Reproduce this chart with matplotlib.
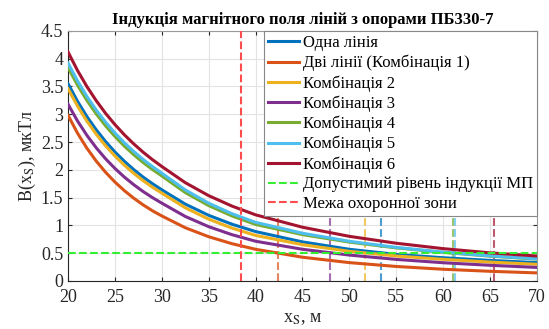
import numpy as np
import matplotlib
matplotlib.use('Agg')
import matplotlib.pyplot as plt

plt.rcParams['font.family'] = ['Liberation Serif', 'DejaVu Serif']
plt.rcParams['mathtext.fontset'] = 'stix'

# distance from the line axis, m
x_s = [20, 21, 22, 23, 24, 25, 26, 27, 28, 29, 30, 32.5, 35, 37.5, 40, 45, 50, 55, 60, 65, 70]

# induction values, uT
b_one = [3.55, 3.235, 2.961, 2.721, 2.509, 2.321, 2.154, 2.005, 1.870, 1.750, 1.64,
         1.383, 1.181, 1.020, 0.889, 0.703, 0.570, 0.478, 0.418, 0.370, 0.33]
b_comb1 = [2.98, 2.662, 2.391, 2.158, 1.956, 1.780, 1.626, 1.490, 1.370, 1.263, 1.17,
           0.958, 0.796, 0.670, 0.570, 0.427, 0.330, 0.261, 0.211, 0.174, 0.145]
b_comb2 = [3.46, 3.149, 2.878, 2.641, 2.432, 2.248, 2.084, 1.937, 1.805, 1.687, 1.58,
           1.317, 1.112, 0.950, 0.820, 0.653, 0.533, 0.450, 0.389, 0.340, 0.30]
b_comb3 = [3.18, 2.881, 2.623, 2.397, 2.199, 2.025, 1.870, 1.733, 1.610, 1.500, 1.40,
           1.161, 0.977, 0.832, 0.715, 0.570, 0.466, 0.388, 0.328, 0.282, 0.244]
b_comb4 = [3.84, 3.526, 3.251, 3.008, 2.792, 2.600, 2.427, 2.273, 2.132, 2.006, 1.89,
           1.591, 1.356, 1.169, 1.017, 0.834, 0.699, 0.595, 0.514, 0.447, 0.393]
b_comb5 = [3.92, 3.602, 3.323, 3.076, 2.858, 2.663, 2.487, 2.330, 2.187, 2.058, 1.94,
           1.638, 1.399, 1.209, 1.055, 0.859, 0.714, 0.604, 0.519, 0.452, 0.398]
b_comb6 = [4.12, 3.790, 3.501, 3.245, 3.017, 2.814, 2.631, 2.467, 2.318, 2.183, 2.06,
           1.769, 1.535, 1.346, 1.190, 0.967, 0.803, 0.679, 0.582, 0.506, 0.449]

labels = ['Одна лінія', 'Дві лінії (Комбінація 1)', 'Комбінація 2', 'Комбінація 3',
          'Комбінація 4', 'Комбінація 5', 'Комбінація 6']
colors = ['#0072BD', '#D95319', '#EDB120', '#7E2F8E', '#77AC30', '#4DBEEE', '#A2142F']

# where each curve drops to the permitted level
x_cross = [53.4, 42.4, 51.7, 47.9, 61.0, 61.3, 65.4]
b_limit = 0.5
x_zone = 38.4

fig = plt.figure(figsize=(5.49, 3.29), dpi=100)
ax = fig.add_axes([0.124, 0.146, 0.854, 0.760])

series = [b_one, b_comb1, b_comb2, b_comb3, b_comb4, b_comb5, b_comb6]
for vals, lbl, c in zip(series, labels, colors):
    ax.plot(x_s, vals, color=c, lw=2.2, label=lbl, zorder=3)

ax.axhline(b_limit, color='#33EE33', lw=1.5, ls='--', zorder=4,
           label='Допустимий рівень індукції МП')
ax.axvline(x_zone, color='#FF4D4D', lw=1.5, ls='--', zorder=4,
           label='Межа охоронної зони')
for xc, c in zip(x_cross, colors):
    ax.axvline(xc, color=c, lw=1.5, ls='--', alpha=0.7, zorder=2)

ax.set_xlim(20, 70)
ax.set_ylim(0, 4.5)
ax.set_xticks(np.arange(20, 71, 5))
ax.set_yticks(np.arange(0, 4.51, 0.5))
ax.set_yticklabels(['0', '0.5', '1', '1.5', '2', '2.5', '3', '3.5', '4', '4.5'])
ax.grid(True, color='#E3E3E3', lw=0.8, zorder=0)
ax.set_axisbelow(True)
ax.tick_params(direction='in', length=3, labelsize=13, colors='#262626',
               top=True, right=True, width=0.8)
ax.tick_params(axis='x', pad=6)
for side in ['left', 'bottom']:
    ax.spines[side].set_color('#262626')
for side in ['top', 'right']:
    ax.spines[side].set_color('#9A9A9A')

ax.set_title('Індукція магнітного поля ліній з опорами ПБ330-7',
             fontsize=12, fontweight='bold', pad=5)
ax.set_xlabel(r'x$_{\mathrm{S}}$, м', fontsize=13, color='#262626', labelpad=3)
ax.set_ylabel(r'B(x$_{\mathrm{S}}$), мкТл', fontsize=13, color='#262626', labelpad=2)

leg = ax.legend(loc='upper right', fontsize=12, borderaxespad=0, fancybox=False,
                edgecolor='#888888', framealpha=1, handlelength=1.85,
                handletextpad=0.2, labelspacing=0.225, borderpad=0.25)
leg.get_frame().set_linewidth(0.8)
leg.set_zorder(10)

fig.savefig('out.png', dpi=100)
